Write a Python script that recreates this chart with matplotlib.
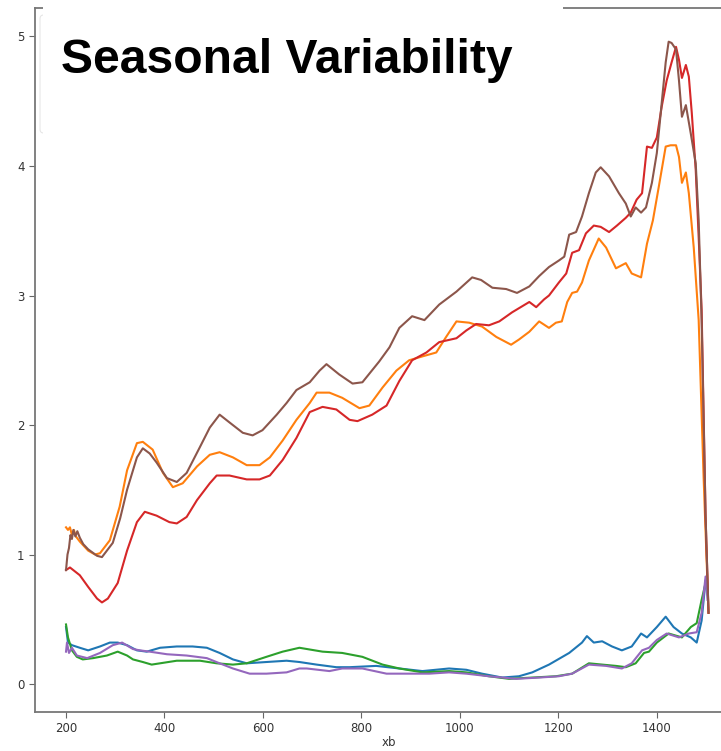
import matplotlib
matplotlib.use("Agg")
import matplotlib.pyplot as plt
from matplotlib.patches import Rectangle, FancyBboxPatch

# values
blue_x = [200, 204, 212, 228, 245, 269, 289, 305, 324, 344, 364, 391, 425, 457, 486, 512, 539, 567, 607, 648, 674,
          709, 749, 776, 830, 877, 924, 978, 1013, 1045, 1086, 1120, 1147, 1181, 1222, 1248, 1258, 1272, 1289, 1309,
          1329, 1349, 1368, 1380, 1400, 1418, 1434, 1451, 1469, 1481, 1491, 1499, 1503]
blue_y = [0.44, 0.32, 0.30, 0.28, 0.26, 0.29, 0.32, 0.32, 0.30, 0.26, 0.25, 0.28, 0.29, 0.29, 0.28, 0.24, 0.19, 0.16,
          0.17, 0.18, 0.17, 0.15, 0.13, 0.13, 0.14, 0.12, 0.10, 0.12, 0.11, 0.08, 0.05, 0.06, 0.09, 0.15, 0.24, 0.32,
          0.37, 0.32, 0.33, 0.29, 0.26, 0.29, 0.39, 0.36, 0.44, 0.52, 0.44, 0.39, 0.36, 0.32, 0.49, 0.80, 0.73]

orange_x = [200, 204, 208, 212, 216, 220, 228, 245, 259, 269, 289, 309, 324, 344, 356, 376, 397, 417, 437, 466, 492,
            512, 539, 567, 593, 614, 640, 668, 695, 709, 735, 761, 796, 816, 843, 871, 897, 924, 952, 972, 993, 1019,
            1045, 1074, 1104, 1120, 1141, 1161, 1181, 1195, 1207, 1218, 1228, 1238, 1248, 1262, 1282, 1297, 1317,
            1337, 1349, 1368, 1380, 1392, 1404, 1418, 1428, 1439, 1445, 1451, 1459, 1465, 1475, 1485, 1495, 1505]
orange_y = [1.21, 1.19, 1.21, 1.15, 1.19, 1.14, 1.10, 1.03, 1.00, 1.01, 1.11, 1.37, 1.65, 1.86, 1.87, 1.81, 1.63,
            1.52, 1.55, 1.68, 1.77, 1.79, 1.75, 1.69, 1.69, 1.75, 1.88, 2.04, 2.17, 2.25, 2.25, 2.21, 2.13, 2.15, 2.29,
            2.42, 2.50, 2.53, 2.56, 2.68, 2.80, 2.79, 2.76, 2.68, 2.62, 2.66, 2.72, 2.80, 2.75, 2.79, 2.80, 2.95, 3.02,
            3.03, 3.10, 3.27, 3.44, 3.37, 3.21, 3.25, 3.17, 3.14, 3.40, 3.58, 3.84, 4.15, 4.16, 4.16, 4.07, 3.87, 3.95,
            3.79, 3.37, 2.81, 1.6, 0.55]

green_x = [200, 204, 212, 222, 234, 255, 283, 305, 324, 336, 356, 374, 391, 425, 472, 506, 539, 567, 607, 640, 674,
           721, 761, 802, 843, 877, 924, 978, 1013, 1059, 1100, 1147, 1195, 1228, 1262, 1289, 1317, 1337, 1357, 1374,
           1384, 1400, 1424, 1451, 1469, 1481, 1491, 1499]
green_y = [0.46, 0.36, 0.26, 0.21, 0.19, 0.20, 0.22, 0.25, 0.22, 0.19, 0.17, 0.15, 0.16, 0.18, 0.18, 0.16, 0.15,
           0.16, 0.21, 0.25, 0.28, 0.25, 0.24, 0.21, 0.15, 0.12, 0.09, 0.10, 0.09, 0.06, 0.04, 0.05, 0.06, 0.08, 0.16,
           0.15, 0.14, 0.13, 0.16, 0.24, 0.25, 0.32, 0.39, 0.36, 0.44, 0.47, 0.65, 0.78]

red_x = [200, 208, 228, 245, 263, 273, 285, 305, 324, 344, 360, 384, 410, 425, 445, 466, 492, 506, 532, 567, 593,
         614, 640, 668, 695, 721, 749, 776, 792, 822, 851, 877, 903, 932, 958, 993, 1013, 1033, 1059, 1080, 1106,
         1141, 1155, 1171, 1181, 1201, 1216, 1228, 1242, 1256, 1272, 1286, 1303, 1319, 1337, 1347, 1359, 1370, 1380,
         1390, 1400, 1410, 1420, 1430, 1439, 1445, 1451, 1459, 1465, 1471, 1479, 1485, 1491, 1499, 1505]
red_y = [0.88, 0.90, 0.84, 0.75, 0.66, 0.63, 0.66, 0.78, 1.03, 1.25, 1.33, 1.30, 1.25, 1.24, 1.29, 1.42, 1.55, 1.61,
         1.61, 1.58, 1.58, 1.61, 1.73, 1.90, 2.10, 2.14, 2.12, 2.04, 2.03, 2.08, 2.15, 2.34, 2.50, 2.56, 2.64, 2.67,
         2.73, 2.78, 2.77, 2.80, 2.87, 2.95, 2.91, 2.97, 3.00, 3.10, 3.17, 3.33, 3.35, 3.48, 3.54, 3.53, 3.49, 3.54,
         3.60, 3.64, 3.74, 3.79, 4.15, 4.14, 4.22, 4.46, 4.66, 4.80, 4.92, 4.82, 4.68, 4.78, 4.69, 4.41, 3.97, 3.45,
         2.89, 1.3, 0.55]

purple_x = [200, 202, 206, 212, 222, 243, 269, 295, 314, 336, 350, 370, 405, 445, 486, 512, 539, 573, 607, 648, 674,
            689, 735, 761, 802, 851, 897, 938, 978, 1013, 1059, 1114, 1161, 1201, 1228, 1262, 1297, 1329, 1349, 1370,
            1384, 1400, 1420, 1445, 1465, 1481, 1491, 1499, 1503]
purple_y = [0.25, 0.32, 0.24, 0.28, 0.22, 0.20, 0.24, 0.30, 0.32, 0.27, 0.26, 0.25, 0.23, 0.22, 0.20, 0.16, 0.12,
            0.08, 0.08, 0.09, 0.12, 0.12, 0.10, 0.12, 0.12, 0.08, 0.08, 0.08, 0.09, 0.08, 0.06, 0.04, 0.05, 0.06, 0.08,
            0.15, 0.14, 0.12, 0.16, 0.26, 0.28, 0.34, 0.39, 0.36, 0.39, 0.40, 0.55, 0.83, 0.65]

brown_x = [200, 203, 206, 209, 212, 215, 219, 223, 228, 235, 245, 263, 273, 295, 310, 324, 344, 356, 370, 384, 405,
           425, 445, 472, 492, 512, 532, 559, 579, 599, 628, 648, 668, 695, 715, 729, 755, 782, 802, 836, 857, 877,
           903, 928, 958, 993, 1025, 1043, 1066, 1094, 1116, 1141, 1161, 1181, 1201, 1212, 1222, 1236, 1248, 1262,
           1276, 1286, 1303, 1323, 1337, 1347, 1357, 1368, 1378, 1390, 1400, 1410, 1418, 1424, 1430, 1439, 1445,
           1451, 1459, 1469, 1479, 1485, 1491, 1499, 1505]
brown_y = [0.88, 1.00, 1.05, 1.15, 1.12, 1.19, 1.14, 1.18, 1.13, 1.08, 1.04, 0.99, 0.98, 1.09, 1.28, 1.50, 1.75,
           1.82, 1.78, 1.71, 1.59, 1.56, 1.63, 1.83, 1.98, 2.08, 2.02, 1.94, 1.92, 1.96, 2.08, 2.17, 2.27, 2.33, 2.42,
           2.47, 2.39, 2.32, 2.33, 2.49, 2.60, 2.75, 2.84, 2.81, 2.93, 3.03, 3.14, 3.12, 3.06, 3.05, 3.02, 3.07, 3.15,
           3.22, 3.27, 3.30, 3.47, 3.49, 3.61, 3.79, 3.95, 3.99, 3.92, 3.79, 3.71, 3.61, 3.68, 3.64, 3.68, 3.87, 4.10,
           4.49, 4.80, 4.96, 4.95, 4.90, 4.66, 4.38, 4.47, 4.25, 4.02, 3.58, 2.81, 1.3, 0.55]

series = [
    (blue_x, blue_y, "tab:blue"),
    (orange_x, orange_y, "tab:orange"),
    (green_x, green_y, "tab:green"),
    (red_x, red_y, "tab:red"),
    (purple_x, purple_y, "tab:purple"),
    (brown_x, brown_y, "tab:brown"),
]

W, H = 721, 751
fig = plt.figure(figsize=(W / 100, H / 100), dpi=100)
# axes run off the right edge like the cropped screenshot
ax = fig.add_axes([35 / W, 39 / H, 707 / W, 704 / H])

for xs, ys, c in series:
    ax.plot(xs, ys, color=c, linewidth=1.5)

ax.set_xlim(137, 1573)
ax.set_ylim(-0.216, 5.22)
ax.set_xticks([200, 400, 600, 800, 1000, 1200, 1400])
ax.set_yticks([0, 1, 2, 3, 4, 5])
ax.set_xlabel("xb", fontsize=8.5, color="#333333", labelpad=0.5)
ax.tick_params(labelsize=8.5, labelcolor="#333333", color="#666666", length=4)
for s in ax.spines.values():
    s.set_color("#777777")
    s.set_linewidth(1.3)

# faint leftover of a legend frame, then the white title box over the top-left
frame = FancyBboxPatch((40 / W, 1 - 133 / H), 200 / W, 118 / H,
                       boxstyle="round,pad=0,rounding_size=0.005",
                       transform=fig.transFigure, facecolor="white",
                       edgecolor="#e6e6e6", linewidth=0.8, zorder=4)
fig.patches.append(frame)
cover = Rectangle((43 / W, 1 - 140 / H), 520 / W, 140 / H, transform=fig.transFigure,
                  facecolor="white", edgecolor="none", zorder=5)
fig.patches.append(cover)

fig.text(61 / W, 1 - 73 / H, "Seasonal Variability", fontsize=34.6, fontweight="bold",
         family="Liberation Sans", color="black", va="baseline", ha="left", zorder=6)

fig.savefig("out.png", dpi=100)
